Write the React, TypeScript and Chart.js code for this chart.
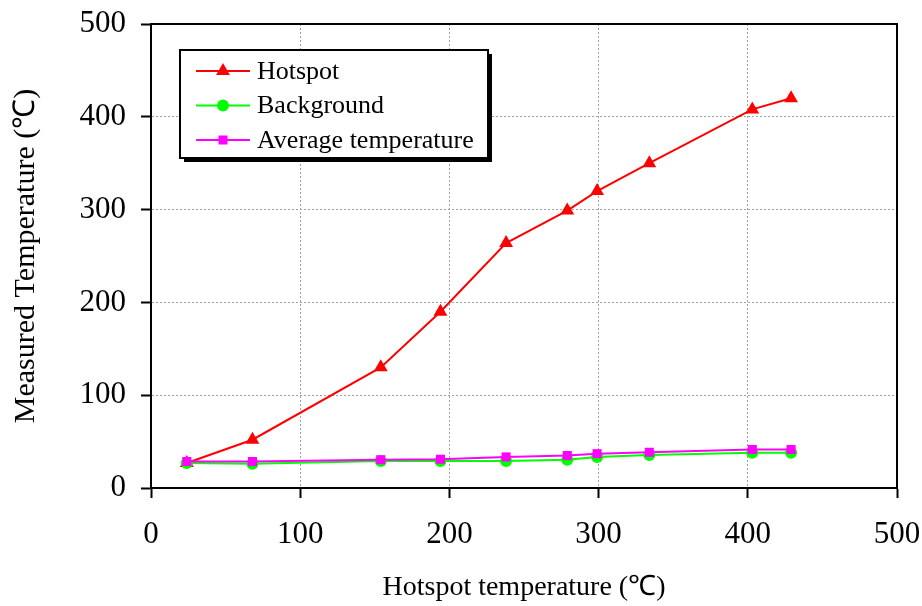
import React, { useEffect, useRef } from 'react';
import { Chart, registerables } from 'chart.js';

Chart.register(...registerables);

const xValues = [24, 68, 154, 194, 238, 279, 299, 334, 403, 429];
const hotspot = [27, 52, 130, 190, 264, 299, 320, 350, 408, 420];
const background = [27, 26, 29, 29, 29, 30.5, 33.5, 35.5, 38, 38];
const average = [28.5, 28.5, 30.5, 31, 33.5, 35, 37, 38.5, 41.5, 41.5];
const seriesNames = ['Hotspot', 'Background', 'Average temperature'];
const seriesColors = ['#ff0000', '#00ff00', '#ff00ff'];
const xTitle = 'Hotspot temperature (℃)';
const yTitle = 'Measured Temperature (℃)';
const axisMin = 0;
const axisMax = 500;
const axisStep = 100;

const FONT = "'Liberation Serif', 'Times New Roman', serif";

const toPoints = (ys: number[]) => ys.map((y, i) => ({ x: xValues[i], y }));

function drawMarker(ctx: CanvasRenderingContext2D, kind: string, x: number, y: number, color: string) {
  ctx.save();
  ctx.fillStyle = color;
  ctx.beginPath();
  if (kind === 'triangle') {
    const r = 8;
    ctx.moveTo(x, y - r);
    ctx.lineTo(x + r * Math.sin(Math.PI / 3), y + r / 2);
    ctx.lineTo(x - r * Math.sin(Math.PI / 3), y + r / 2);
    ctx.closePath();
  } else if (kind === 'circle') {
    ctx.arc(x, y, 6, 0, Math.PI * 2);
  } else {
    ctx.rect(x - 4.5, y - 4.5, 9, 9);
  }
  ctx.fill();
  ctx.restore();
}

const boxAndLegend = {
  id: 'boxAndLegend',
  afterDraw(chart: any) {
    const ctx: CanvasRenderingContext2D = chart.ctx;
    const a = chart.chartArea;
    ctx.save();
    // plot frame
    ctx.strokeStyle = '#000';
    ctx.lineWidth = 2;
    ctx.beginPath();
    ctx.moveTo(a.left, a.top);
    ctx.lineTo(a.right, a.top);
    ctx.lineTo(a.right, a.bottom);
    ctx.stroke();

    // legend
    const lx = a.left + 29;
    const ly = a.top + 26;
    const lw = 308;
    const lh = 108;
    ctx.fillStyle = '#000';
    ctx.fillRect(lx + 4, ly + 4, lw, lh);
    ctx.fillStyle = '#fff';
    ctx.fillRect(lx, ly, lw, lh);
    ctx.strokeStyle = '#000';
    ctx.lineWidth = 2;
    ctx.strokeRect(lx, ly, lw, lh);

    const kinds = ['triangle', 'circle', 'rect'];
    ctx.font = `26px ${FONT}`;
    ctx.textBaseline = 'middle';
    ctx.textAlign = 'left';
    seriesNames.forEach((name, i) => {
      const y = ly + 21 + i * 34.5;
      ctx.strokeStyle = seriesColors[i];
      ctx.lineWidth = 2;
      ctx.beginPath();
      ctx.moveTo(lx + 16, y);
      ctx.lineTo(lx + 70, y);
      ctx.stroke();
      drawMarker(ctx, kinds[i], lx + 43, y, seriesColors[i]);
      ctx.fillStyle = '#000';
      ctx.fillText(name, lx + 77, y + 1);
    });
    ctx.restore();
  },
};

export default function App() {
  const ref = useRef<HTMLCanvasElement | null>(null);

  useEffect(() => {
    if (!ref.current) return;
    const commonGrid = {
      color: '#a0a0a0',
      lineWidth: 1,
      tickColor: '#000',
      tickWidth: 2,
      tickLength: 10,
      tickBorderDash: [],
    };
    const commonBorder = { color: '#000', width: 2, dash: [2, 2] };
    const chart = new Chart(ref.current, {
      type: 'line',
      data: {
        datasets: [
          {
            label: seriesNames[0],
            data: toPoints(hotspot),
            borderColor: seriesColors[0],
            backgroundColor: seriesColors[0],
            pointStyle: 'triangle',
            pointRadius: 8,
            pointBorderWidth: 0,
            borderWidth: 2,
            order: 3,
          },
          {
            label: seriesNames[1],
            data: toPoints(background),
            borderColor: seriesColors[1],
            backgroundColor: seriesColors[1],
            pointStyle: 'circle',
            pointRadius: 6,
            pointBorderWidth: 0,
            borderWidth: 2,
            order: 2,
          },
          {
            label: seriesNames[2],
            data: toPoints(average),
            borderColor: seriesColors[2],
            backgroundColor: seriesColors[2],
            pointStyle: 'rect',
            pointRadius: 6.4,
            pointBorderWidth: 0,
            borderWidth: 2,
            order: 1,
          },
        ],
      },
      options: {
        animation: false,
        responsive: false,
        maintainAspectRatio: false,
        layout: { padding: { top: 24, right: 25, left: 0, bottom: 0 } },
        plugins: { legend: { display: false }, tooltip: { enabled: false } },
        scales: {
          x: {
            type: 'linear',
            min: axisMin,
            max: axisMax,
            ticks: {
              stepSize: axisStep,
              color: '#000',
              font: { family: FONT, size: 31 },
              padding: 18,
              maxRotation: 0,
            },
            grid: commonGrid,
            border: commonBorder,
            title: {
              display: true,
              text: xTitle,
              color: '#000',
              font: { family: FONT, size: 28 },
              padding: { top: 0, bottom: 2 },
            },
            afterFit: (s: any) => {
              s.height = 118;
              s.paddingLeft = 0;
              s.paddingRight = 0;
            },
          },
          y: {
            type: 'linear',
            min: axisMin,
            max: axisMax,
            ticks: {
              stepSize: axisStep,
              color: '#000',
              font: { family: FONT, size: 31 },
              padding: 15,
            },
            grid: commonGrid,
            border: commonBorder,
            title: {
              display: true,
              text: yTitle,
              color: '#000',
              font: { family: FONT, size: 30 },
              padding: { top: 8, bottom: 0 },
            },
            afterFit: (s: any) => {
              s.width = 151;
              s.paddingTop = 0;
              s.paddingBottom = 0;
            },
          },
        },
      } as any,
      plugins: [boxAndLegend],
    });
    return () => chart.destroy();
  }, []);

  return (
    <div style={{ position: 'absolute', left: 0, top: 0, width: 922, height: 606, background: '#fff' }}>
      <canvas ref={ref} width={922} height={606} style={{ width: 922, height: 606, display: 'block' }} />
    </div>
  );
}
